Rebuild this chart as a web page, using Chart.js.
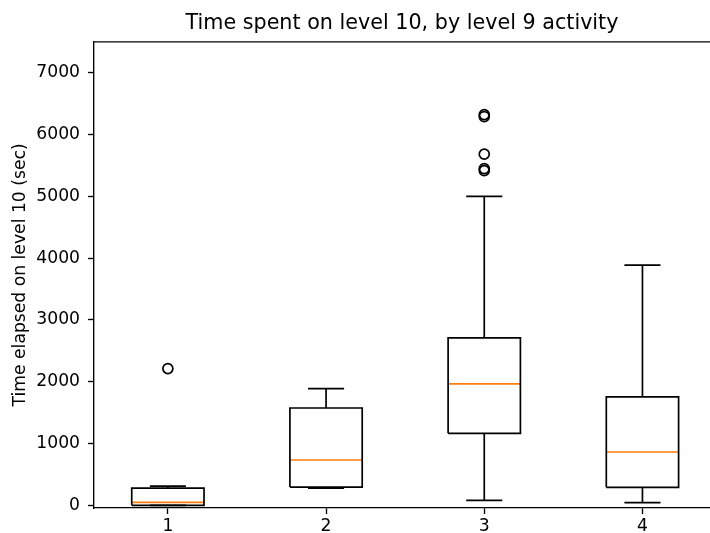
<!DOCTYPE html>
<html>
<head>
<meta charset="utf-8">
<script src="https://cdn.jsdelivr.net/npm/chart.js@4/dist/chart.umd.min.js"></script>
<style>
  html, body { margin: 0; padding: 0; background: #fff; overflow: hidden; }
  canvas { display: block; }
</style>
</head>
<body>
<canvas id="c" width="710" height="533"></canvas>
<script>
// ---- data ----
const categories   = ['1', '2', '3', '4'];
const whiskerLow   = [0, 280, 81, 44];
const q1           = [0, 296, 1166, 291];
const medians      = [49, 734, 1964, 863];
const q3           = [280, 1575, 2709, 1754];
const whiskerHigh  = [312, 1890, 4998, 3886];
const outliers     = [[2213], [], [5417, 5449, 5683, 6291, 6323], []];
const yTicks       = [0, 1000, 2000, 3000, 4000, 5000, 6000, 7000];

// ---- style constants ----
const BOX_HALF = 0.2285;   // half box width in category units
const CAP_HALF = 0.114;    // half cap width
const LW = 1.7;
const FONT = "'DejaVu Sans', sans-serif";

// ---- build line-segment datasets from the arrays ----
const gap = x => ({ x: x, y: null });
const boxPts = [], medPts = [], whiskPts = [], outPts = [];
categories.forEach((c, i) => {
  const x = i + 1;
  boxPts.push({x: x - BOX_HALF, y: q1[i]}, {x: x + BOX_HALF, y: q1[i]},
              {x: x + BOX_HALF, y: q3[i]}, {x: x - BOX_HALF, y: q3[i]},
              {x: x - BOX_HALF, y: q1[i]}, gap(x));
  medPts.push({x: x - BOX_HALF, y: medians[i]}, {x: x + BOX_HALF, y: medians[i]}, gap(x));
  whiskPts.push({x: x, y: q1[i]}, {x: x, y: whiskerLow[i]}, gap(x),
                {x: x, y: q3[i]}, {x: x, y: whiskerHigh[i]}, gap(x),
                {x: x - CAP_HALF, y: whiskerLow[i]}, {x: x + CAP_HALF, y: whiskerLow[i]}, gap(x),
                {x: x - CAP_HALF, y: whiskerHigh[i]}, {x: x + CAP_HALF, y: whiskerHigh[i]}, gap(x));
  outliers[i].forEach(v => outPts.push({x: x, y: v}));
});

const lineDs = (data, color) => ({
  data, showLine: true, spanGaps: false, borderColor: color, borderWidth: LW,
  pointRadius: 0, pointHoverRadius: 0, tension: 0,
  borderCapStyle: 'butt', borderJoinStyle: 'miter', fill: false
});

// top spine (the right spine lies outside the cropped picture, as in the reference)
const framePlugin = {
  id: 'frame',
  afterDraw(chart) {
    const {ctx, chartArea: a} = chart;
    ctx.save();
    ctx.strokeStyle = '#000';
    ctx.lineWidth = 1.36;
    ctx.beginPath();
    ctx.moveTo(a.left, a.top);
    ctx.lineTo(a.right, a.top);
    ctx.stroke();
    ctx.restore();
  }
};

new Chart(document.getElementById('c'), {
  type: 'scatter',
  data: {
    datasets: [
      lineDs(whiskPts, '#000000'),
      lineDs(boxPts, '#000000'),
      lineDs(medPts, '#ff7f0e'),
      {
        data: outPts, showLine: false, pointRadius: 5, pointHoverRadius: 5,
        pointBackgroundColor: 'rgba(0,0,0,0)', pointBorderColor: '#000',
        pointBorderWidth: 1.7, pointStyle: 'circle'
      }
    ]
  },
  options: {
    responsive: false,
    devicePixelRatio: 1,
    animation: false,
    events: [],
    layout: { autoPadding: false, padding: 0 },
    plugins: {
      legend: { display: false },
      tooltip: { enabled: false },
      title: {
        display: true,
        text: 'Time spent on level 10, by level 9 activity',
        fullSize: false,
        color: '#000',
        font: { family: FONT, size: 20.7, weight: 'normal' },
        padding: { top: 11, bottom: 6 }
      }
    },
    scales: {
      x: {
        type: 'linear',
        min: 0.533, max: 4.427,
        afterBuildTicks: s => { s.ticks = categories.map((c, i) => ({ value: i + 1 })); },
        afterFit: s => { s.height = 25; s.paddingLeft = 0; s.paddingRight = 0; },
        ticks: {
          color: '#000', padding: 2,
          font: { family: FONT, size: 17.2 },
          callback: (v) => categories[Math.round(v) - 1] ?? ''
        },
        grid: { drawOnChartArea: false, drawTicks: true, tickLength: 6, tickColor: '#000', tickWidth: 1.36 },
        border: { display: true, color: '#000', width: 1.36 }
      },
      y: {
        type: 'linear',
        min: -43, max: 7500,
        afterBuildTicks: s => { s.ticks = yTicks.map(v => ({ value: v })); },
        afterFit: s => { s.width = 94; },
        ticks: {
          color: '#000', padding: 8,
          font: { family: FONT, size: 17.2 },
          callback: v => String(v)
        },
        title: {
          display: true,
          text: 'Time elapsed on level 10 (sec)',
          color: '#000',
          font: { family: FONT, size: 17.2 },
          padding: { top: 10, bottom: 0 }
        },
        grid: { drawOnChartArea: false, drawTicks: true, tickLength: 6, tickColor: '#000', tickWidth: 1.36 },
        border: { display: true, color: '#000', width: 1.36 }
      }
    }
  },
  plugins: [framePlugin]
});
</script>
</body>
</html>
